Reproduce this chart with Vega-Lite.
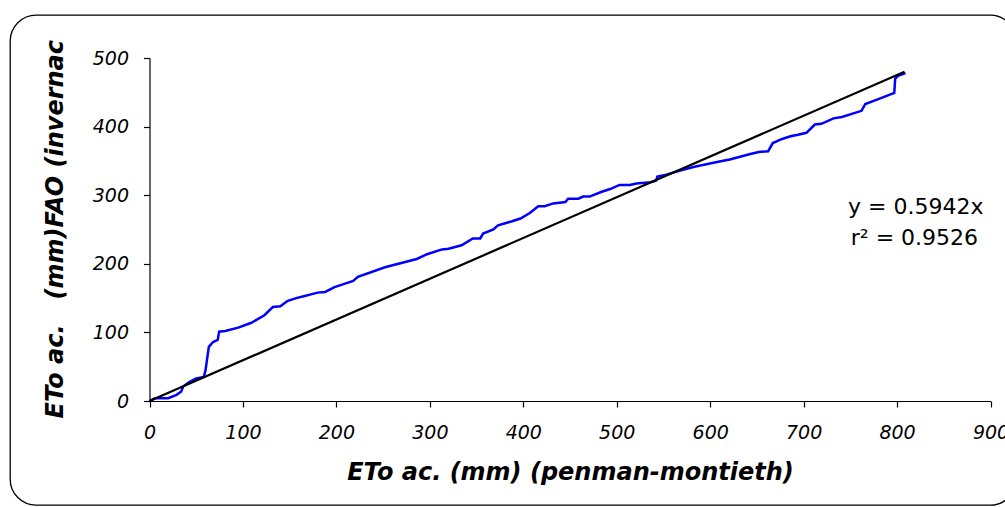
{
  "$schema": "https://vega.github.io/schema/vega-lite/v6.json",
  "width": 1006,
  "height": 490,
  "autosize": {"type": "none"},
  "padding": {"left": 10, "top": 15, "right": -11, "bottom": 2},
  "background": "white",
  "config": {
    "view": {"stroke": "#000000", "strokeWidth": 1.3, "cornerRadius": 26},
    "font": "DejaVu Sans"
  },
  "datasets": {
    "series": [
      {"x": 0, "y": 0}, {"x": 6, "y": 4}, {"x": 20, "y": 4}, {"x": 29, "y": 9}, {"x": 34, "y": 14},
      {"x": 36, "y": 21}, {"x": 43, "y": 28}, {"x": 50, "y": 33}, {"x": 58, "y": 35}, {"x": 60, "y": 45},
      {"x": 61.5, "y": 60}, {"x": 63.5, "y": 79}, {"x": 68, "y": 86}, {"x": 73, "y": 89}, {"x": 74.5, "y": 101},
      {"x": 81, "y": 102}, {"x": 95, "y": 107}, {"x": 109, "y": 114}, {"x": 123, "y": 125}, {"x": 132, "y": 137},
      {"x": 140, "y": 138}, {"x": 148, "y": 146}, {"x": 157, "y": 150}, {"x": 166, "y": 153}, {"x": 180, "y": 158},
      {"x": 188, "y": 159}, {"x": 198, "y": 166}, {"x": 218, "y": 175}, {"x": 223, "y": 181}, {"x": 252, "y": 195},
      {"x": 286, "y": 207}, {"x": 297, "y": 214}, {"x": 313, "y": 221}, {"x": 320, "y": 222}, {"x": 334, "y": 227},
      {"x": 346, "y": 237}, {"x": 354, "y": 237}, {"x": 357, "y": 244}, {"x": 368, "y": 250}, {"x": 373, "y": 256},
      {"x": 388, "y": 262}, {"x": 397, "y": 266}, {"x": 407, "y": 274}, {"x": 416, "y": 284}, {"x": 423, "y": 284},
      {"x": 432, "y": 288}, {"x": 445, "y": 290}, {"x": 448, "y": 295}, {"x": 459, "y": 295}, {"x": 464, "y": 298},
      {"x": 471, "y": 298}, {"x": 484, "y": 305}, {"x": 493, "y": 309}, {"x": 503, "y": 315}, {"x": 514, "y": 315},
      {"x": 521, "y": 317}, {"x": 536, "y": 319}, {"x": 542, "y": 321}, {"x": 543.5, "y": 327}, {"x": 553, "y": 330},
      {"x": 568, "y": 336}, {"x": 582, "y": 341}, {"x": 596, "y": 345}, {"x": 610, "y": 349}, {"x": 621, "y": 352},
      {"x": 632, "y": 356}, {"x": 643, "y": 360}, {"x": 652, "y": 363}, {"x": 662, "y": 364}, {"x": 667, "y": 376},
      {"x": 677, "y": 382}, {"x": 686, "y": 386}, {"x": 694, "y": 388}, {"x": 703, "y": 391}, {"x": 712, "y": 403},
      {"x": 719, "y": 404}, {"x": 732, "y": 412}, {"x": 741, "y": 414}, {"x": 762, "y": 423}, {"x": 766, "y": 433},
      {"x": 780, "y": 440}, {"x": 795, "y": 448}, {"x": 797, "y": 449}, {"x": 798, "y": 470}, {"x": 801, "y": 474},
      {"x": 809, "y": 478}
    ],
    "trend": [
      {"x": 0, "y": 0},
      {"x": 808, "y": 480}
    ],
    "labels": [
      {"x": 747.5, "y": 273, "label": "y = 0.5942x"},
      {"x": 750.5, "y": 227, "label": "r² = 0.9526"}
    ]
  },
  "encoding": {
    "x": {
      "field": "x",
      "type": "quantitative",
      "scale": {"domain": [0, 900], "range": [139.5, 980.5], "nice": false, "zero": false},
      "axis": {
        "values": [0, 100, 200, 300, 400, 500, 600, 700, 800, 900],
        "offset": -104,
        "grid": false,
        "domainColor": "#000000",
        "domainWidth": 1.2,
        "tickColor": "#000000",
        "tickWidth": 1.2,
        "tickSize": 6,
        "labelFont": "DejaVu Sans",
        "labelFontStyle": "italic",
        "labelFontSize": 19,
        "labelColor": "#000000",
        "labelPadding": 16,
        "labelFlush": false,
        "labelOverlap": false,
        "title": "ETo ac. (mm) (penman-montieth)",
        "titleFont": "DejaVu Sans",
        "titleFontSize": 24,
        "titleFontWeight": "bold",
        "titleFontStyle": "italic",
        "titleColor": "#000000",
        "titleBaseline": "alphabetic",
        "titleY": 78
      }
    },
    "y": {
      "field": "y",
      "type": "quantitative",
      "scale": {"domain": [0, 500], "range": [386, 43], "nice": false, "zero": false},
      "axis": {
        "values": [0, 100, 200, 300, 400, 500],
        "offset": -139.5,
        "grid": false,
        "domainColor": "#000000",
        "domainWidth": 1.2,
        "tickColor": "#000000",
        "tickWidth": 1.2,
        "tickSize": 6,
        "labelFont": "DejaVu Sans",
        "labelFontStyle": "italic",
        "labelFontSize": 19,
        "labelColor": "#000000",
        "labelPadding": 15,
        "labelFlush": false,
        "labelOverlap": false,
        "title": "ETo ac.\u00a0\u00a0 (mm)FAO (invernac",
        "titleFont": "DejaVu Sans",
        "titleFontSize": 24,
        "titleFontWeight": "bold",
        "titleFontStyle": "italic",
        "titleColor": "#000000",
        "titleAngle": -90,
        "titleAlign": "left",
        "titleBaseline": "alphabetic",
        "titleX": -87.5,
        "titleY": 403
      }
    }
  },
  "layer": [
    {
      "data": {"name": "series"},
      "mark": {"type": "line", "color": "#0000FF", "strokeWidth": 2.5},
      "encoding": {}
    },
    {
      "data": {"name": "trend"},
      "mark": {"type": "line", "color": "#000000", "strokeWidth": 2.2},
      "encoding": {}
    },
    {
      "data": {"name": "labels"},
      "mark": {"type": "text", "align": "left", "baseline": "alphabetic", "font": "DejaVu Sans", "fontSize": 22, "color": "#000000"},
      "encoding": {"text": {"field": "label", "type": "nominal"}}
    }
  ]
}
